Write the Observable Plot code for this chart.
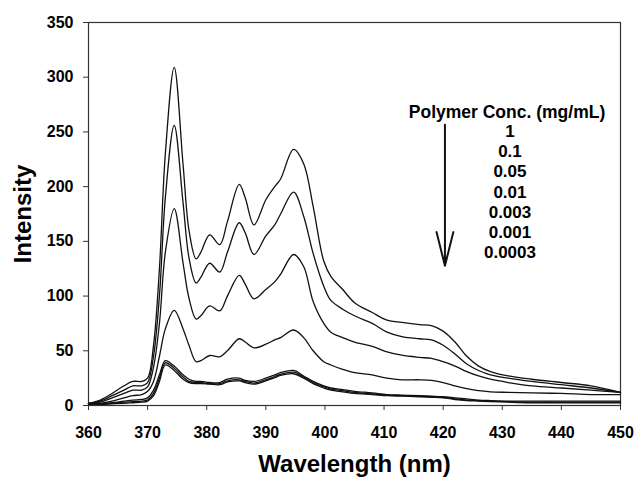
<!DOCTYPE html>
<html>
<head>
<meta charset="utf-8">
<script src="https://cdn.jsdelivr.net/npm/d3@7"></script>
<script src="https://cdn.jsdelivr.net/npm/@observablehq/plot@0.6"></script>
<style>
  html, body { margin: 0; padding: 0; background: #fff; }
</style>
</head>
<body>
<div id="chart"></div>
<script>
const wavelengths = [360, 362, 364, 366, 367.5, 369, 370, 371, 372, 373,
  374.5, 376, 377, 378.2, 379, 380.5, 382.2, 383.5, 385.5, 386.5,
  388, 390, 391.5, 392.5, 394.7, 396.4, 398, 399.8, 401, 403,
  405, 408, 410.5, 413, 416, 418, 420, 422, 424, 426,
  428, 431, 435, 440, 445, 450];

const concLabels = ["1", "0.1", "0.05", "0.01", "0.003", "0.001", "0.0003"];

const conc1 = [2, 5, 11, 18, 22, 22, 25, 55, 125, 230,
  309, 220, 160, 134, 140, 156, 147, 168, 202, 190,
  165, 188, 200, 207, 234, 221, 182, 132, 118, 106,
  94, 85, 78, 76, 74, 73, 68, 58, 45, 36,
  31, 27, 24, 21, 18, 12];
const conc01 = [2, 4, 9, 14, 18, 18, 21, 45, 100, 190,
  256, 185, 135, 112, 117, 130, 122, 140, 167, 158,
  138, 155, 165, 175, 195, 173, 139, 109, 96, 88,
  82, 75, 67, 63, 61, 60, 55, 47, 38, 32,
  28, 25, 22, 19, 16, 12];
const conc005 = [2, 3, 7, 11, 14, 14, 17, 35, 75, 140,
  180, 130, 98, 79, 82, 91, 86.5, 100, 119, 111,
  97.5, 106, 113, 120, 138, 127, 95, 75, 67, 62,
  58, 54, 49, 46, 44, 43, 40, 36, 31, 27,
  24, 21, 18, 16, 14, 12];
const conc001 = [1.5, 2, 4, 7, 9, 10, 13, 22, 45, 70,
  87, 70, 55, 40, 41, 45.7, 44.5, 50, 61, 58,
  52.7, 56, 60, 62, 69, 62, 50, 40, 37, 33,
  30, 28, 25, 23.5, 23.5, 23, 21, 18, 15.5, 13.5,
  12.5, 12, 11.5, 11, 10, 10];
const conc0003 = [1.5, 1.5, 2.5, 4, 5, 5.5, 7, 14, 28, 41,
  36, 28, 24, 22, 22, 21, 21, 24, 25, 23,
  22, 25, 28, 30, 32, 27, 22, 18, 16, 14.5,
  13, 11.5, 10, 9.5, 9, 8.5, 8, 7, 6, 5,
  4.5, 4, 4, 4, 4, 4];
const conc0001 = [1.5, 1.5, 2, 3, 3.5, 4, 5, 11, 25, 39,
  34, 26, 22, 21, 21, 20, 20, 22.5, 23.5, 22,
  20.5, 23.5, 26.5, 28.5, 30.5, 26, 21, 17, 15, 13.5,
  12, 10.5, 9.5, 9, 8.5, 8, 7.5, 6, 5, 4.5,
  4, 3.5, 3, 3, 3, 3];
const conc00003 = [1, 1, 1.5, 2, 2.5, 3, 4, 9, 22, 37,
  32, 24, 21, 20, 20, 19.5, 19, 21.5, 22.5, 21,
  19.5, 22.5, 25.5, 27.5, 29, 25, 20, 16, 14, 12.5,
  11, 10, 9, 8.5, 8, 7.5, 7, 5.5, 4.5, 4,
  3.5, 3, 2.5, 2.5, 2.5, 2.5];

const xTicks = [360, 370, 380, 390, 400, 410, 420, 430, 440, 450];
const yTicks = [0, 50, 100, 150, 200, 250, 300, 350];
const legendTitle = "Polymer Conc. (mg/mL)";
const xLabel = "Wavelength (nm)";
const yLabel = "Intensity";

const allSeries = [conc1, conc01, conc005, conc001, conc0003, conc0001, conc00003];
const data = allSeries.flatMap((vals, i) =>
  vals.map((v, j) => ({wl: wavelengths[j], I: v, conc: concLabels[i]})));

const font = "'Liberation Sans', Arial, Helvetica, sans-serif";

const chart = Plot.plot({
  width: 637,
  height: 480,
  marginLeft: 88,
  marginRight: 17,
  marginTop: 22,
  marginBottom: 75,
  style: {fontFamily: font, fontWeight: "bold", fontSize: "16px", color: "#000", background: "#fff"},
  x: {domain: [360, 450], label: null},
  y: {domain: [0, 350], label: null},
  marks: [
    Plot.frame({stroke: "#333", strokeWidth: 1.2}),
    Plot.axisX(xTicks, {tickSize: 5, tickPadding: 16, label: null, fontSize: 16, fontWeight: "bold", stroke: "#333"}),
    Plot.axisY(yTicks, {tickSize: 5, tickPadding: 10, label: null, fontSize: 16, fontWeight: "bold", stroke: "#333"}),
    Plot.line(data, {x: "wl", y: "I", z: "conc", curve: "catmull-rom", stroke: "#111", strokeWidth: 1.3}),
    Plot.text([legendTitle], {x: () => 430.8, y: () => 267.6, fontSize: 17.5, fontWeight: "bold", textAnchor: "middle"}),
    Plot.text(concLabels, {x: () => 431.3, y: (d, i) => 250.2 - 18.4 * i, fontSize: 17, fontWeight: "bold", textAnchor: "middle"}),
    Plot.arrow([0], {x1: () => 420.3, y1: () => 256.5, x2: () => 420.3, y2: () => 127.7,
      stroke: "#111", strokeWidth: 2, headLength: 26, headAngle: 28}),
    Plot.text([yLabel], {frameAnchor: "left", dx: -65, rotate: -90, fontSize: 24, fontWeight: "bold", textAnchor: "middle"}),
    Plot.text([xLabel], {frameAnchor: "bottom", dy: 66, fontSize: 24, fontWeight: "bold", textAnchor: "middle"})
  ]
});

document.getElementById("chart").appendChild(chart);
</script>
</body>
</html>
